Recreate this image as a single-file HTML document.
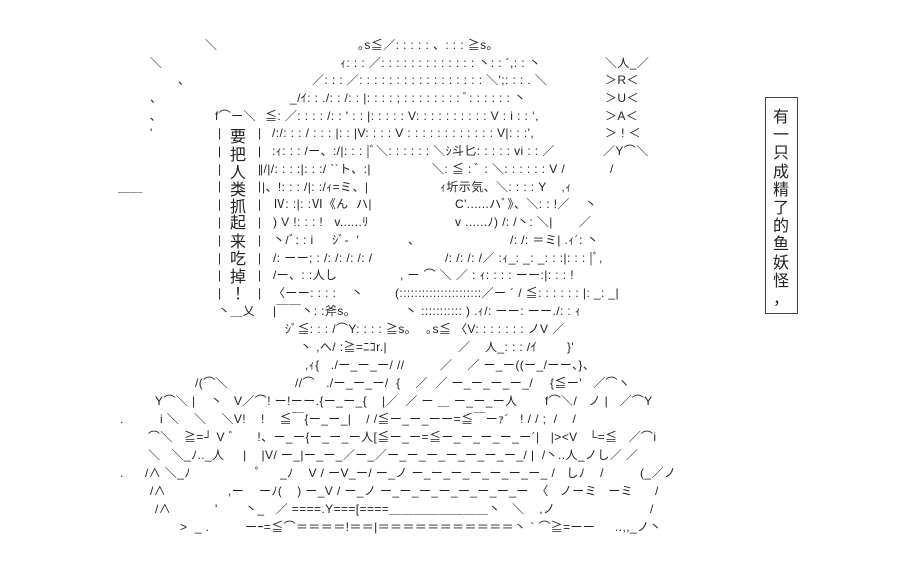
<!DOCTYPE html>
<html><head><meta charset="utf-8">
<style>
html,body{margin:0;padding:0;background:#fff;}
body{width:902px;height:568px;position:relative;overflow:hidden;
font-family:"Liberation Sans","Noto Sans CJK JP",sans-serif;font-size:12px;color:#222;}
.c{position:absolute;white-space:pre;line-height:16px;letter-spacing:0.4px;}
.k{position:absolute;font-size:16px;line-height:18px;width:20px;text-align:center;}
#rb{position:absolute;left:765px;top:97px;width:31px;height:215px;border:1px solid #444;}
</style></head><body>
<div class="c" style="left:205px;top:37px">＼</div>
<div class="c" style="left:358px;top:37px">｡s≦／: : : : : 、: : : ≧s｡</div>
<div class="c" style="left:150px;top:55px">＼</div>
<div class="c" style="left:340px;top:55px">ｨ: : : ／: : : : : : : : : : : : : 丶: : ´,: : 丶</div>
<div class="c" style="left:605px;top:55px">＼人_／</div>
<div class="c" style="left:178px;top:72px">、</div>
<div class="c" style="left:312px;top:72px">／: : : ／: : : : : : : : : : : : : : : : : ＼';: : : . ＼</div>
<div class="c" style="left:605px;top:72px">＞R＜</div>
<div class="c" style="left:150px;top:90px">、</div>
<div class="c" style="left:290px;top:90px">_/ｲ: : ./: : /: : |: : : : ; : : : : : : : : ﾞ: : : : : : 丶</div>
<div class="c" style="left:605px;top:90px">＞U＜</div>
<div class="c" style="left:150px;top:108px">､</div>
<div class="c" style="left:215px;top:108px">f⌒ー＼</div>
<div class="c" style="left:265px;top:108px">≦: ／: : : : /: : ' : : |: : : : : V: : : : : : : : : : V : i : : ‘,</div>
<div class="c" style="left:605px;top:108px">＞A＜</div>
<div class="c" style="left:150px;top:125px">'</div>
<div class="c" style="left:272px;top:125px">/:/: : : / : : : |: : |V: : : : V : : : : : : : : : : : : V|: : :',</div>
<div class="c" style="left:605px;top:125px">＞ ! ＜</div>
<div class="c" style="left:272px;top:143px">:ｨ: : : /ー、:/|: : : |ﾞ＼: : : : : : ＼ｼ斗匕: : : : : vi : : ／</div>
<div class="c" style="left:603px;top:143px">／Y⌒＼</div>
<div class="c" style="left:260px;top:161px">|/|/: : : :|: : :/ ˋ`ト、:|</div>
<div class="c" style="left:432px;top:161px">＼: ≦ : ﾞ : ＼: : : : : : V /</div>
<div class="c" style="left:610px;top:161px">/</div>
<div class="c" style="left:118px;top:179px">＿＿</div>
<div class="c" style="left:262px;top:179px">|、!: : : /|: :/ｨ=ミ、|</div>
<div class="c" style="left:440px;top:179px">ｨ圻示気、＼: : : : Y    ,ｨ</div>
<div class="c" style="left:273px;top:196px">Ⅳ: :|: :Ⅵ《ん  ハ|</div>
<div class="c" style="left:455px;top:196px">C'......ハﾞ》、＼: : !／    丶</div>
<div class="c" style="left:273px;top:214px">) V !: : : !   v......ﾘ</div>
<div class="c" style="left:455px;top:214px">v ......ﾉ) /: /丶: ＼|       ／</div>
<div class="c" style="left:273px;top:232px">丶/ﾞ: : i     ｼﾞ-  '</div>
<div class="c" style="left:408px;top:232px">、</div>
<div class="c" style="left:510px;top:232px">/: /: ＝ミ| .ｨ´: 丶</div>
<div class="c" style="left:273px;top:250px">/: ーー; : /: /: /: /: /</div>
<div class="c" style="left:445px;top:250px">/: /: /: /／ :ｨ_: _: _: : :|: : : |ﾞ,</div>
<div class="c" style="left:273px;top:267px">/ー、: :人し</div>
<div class="c" style="left:400px;top:267px">, ー ⌒ ＼ ／ : ｨ: : : : ーー:|: : : !</div>
<div class="c" style="left:273px;top:285px">〈ーー: : : :    丶</div>
<div class="c" style="left:395px;top:285px">(::::::::::::::::::::::／ー ´ / ≦: : : : : : |: _: _|</div>
<div class="c" style="left:218px;top:303px">丶＿乂</div>
<div class="c" style="left:273px;top:303px">|￣￣丶: :斧s｡</div>
<div class="c" style="left:405px;top:303px">丶 ::::::::::: ) .ｨ/: ーー: ーー./: : ｨ</div>
<div class="c" style="left:285px;top:321px">ｼﾞ≦: : : /⌒Y: : : : ≧s｡    ｡s≦ 〈V: : : : : : : ノV ／</div>
<div class="c" style="left:300px;top:339px">丶 ,へ/ :≧=ﾆｺr.|</div>
<div class="c" style="left:458px;top:339px">／</div>
<div class="c" style="left:485px;top:339px">人_: : : /ｲ</div>
<div class="c" style="left:567px;top:339px">}'</div>
<div class="c" style="left:305px;top:357px">,ｨ{   ./ー_ー_ー/ //</div>
<div class="c" style="left:440px;top:357px">／    ／ ー_ー((ー_/ーー、}、</div>
<div class="c" style="left:195px;top:375px">/(⌒＼</div>
<div class="c" style="left:295px;top:375px">//⌒   ./ー_ー_ー/  {    ／  ／ ー_ー_ー_ー_/</div>
<div class="c" style="left:550px;top:375px">{≦ー'   ／⌒ヽ</div>
<div class="c" style="left:155px;top:393px">Y⌒＼ |    丶   V／⌒! ー!ーー.{ー_ー_{    |／  ／ ー ＿ ー_ー_ー人</div>
<div class="c" style="left:545px;top:393px">f⌒＼/   ノ |   ／⌒Y</div>
<div class="c" style="left:120px;top:411px">.</div>
<div class="c" style="left:160px;top:411px">i ＼    ＼    ＼V!    !    ≦￣{ー_ー_|    / /≦ー_ー_ーー=≦￣ーｧ´   ! / / ;  /    /</div>
<div class="c" style="left:148px;top:429px">⌒＼   ≧=┘ V ﾞ      !、ー_ー{ー_ー_ー人[≦ー_ー=≦ー_ー_ー_ー_ー´|   |&gt;&lt;V   └=≦   ／⌒i</div>
<div class="c" style="left:148px;top:447px">＼   ＼_ﾉ.._人     |    |V/ ー_|ー_ー_／ー_／ー_ー_ー_ー_ー_ー_ー_/ |  /丶..人_ノし／ ／</div>
<div class="c" style="left:120px;top:465px">.</div>
<div class="c" style="left:145px;top:465px">/∧ ＼_ﾉ</div>
<div class="c" style="left:255px;top:465px">ﾟ     _ﾉ    V / ーV_ー/ ー_ノ ー_ー_ー_ー_ー_ー_ー_ /   しﾉ    /</div>
<div class="c" style="left:640px;top:465px">(_／ノ</div>
<div class="c" style="left:150px;top:483px">/∧</div>
<div class="c" style="left:228px;top:483px">,ー    ーﾉ(    ) ー_V / ー_ノ ー_ー_ー_ー_ー_ー_ー_ー  〈   ノーミ   ーミ</div>
<div class="c" style="left:655px;top:483px">/</div>
<div class="c" style="left:155px;top:501px">/∧</div>
<div class="c" style="left:215px;top:501px">'</div>
<div class="c" style="left:245px;top:501px">丶_   ／ ====.Y===[====＿＿＿＿＿＿＿＿丶   ＼    ,ノ</div>
<div class="c" style="left:650px;top:501px">/</div>
<div class="c" style="left:180px;top:519px">&gt;  _ .</div>
<div class="c" style="left:245px;top:519px">ーｰ=≦⌒＝＝＝＝!＝＝|＝＝＝＝＝＝＝＝＝＝＝丶 ` ⌒≧=ーー</div>
<div class="c" style="left:615px;top:519px">..,,_ノ丶</div>

<div class="c" style="left:218px;top:125px;line-height:17.8px">|
|
|
|
|
|
|
|
|
|</div>
<div class="c" style="left:258px;top:125px;line-height:17.8px">|
|
|
|
|
|
|
|
|
|</div>
<div class="k" style="left:228px;top:129px">要</div>
<div class="k" style="left:228px;top:147px">把</div>
<div class="k" style="left:228px;top:165px">人</div>
<div class="k" style="left:228px;top:182px">类</div>
<div class="k" style="left:228px;top:199px">抓</div>
<div class="k" style="left:228px;top:215px">起</div>
<div class="k" style="left:228px;top:234px">来</div>
<div class="k" style="left:228px;top:251px">吃</div>
<div class="k" style="left:228px;top:269px">掉</div>
<div class="k" style="left:228px;top:286px">！</div>

<div id="rb"></div>
<div class="k" style="left:771px;top:109px">有</div>
<div class="k" style="left:771px;top:127px">一</div>
<div class="k" style="left:771px;top:145px">只</div>
<div class="k" style="left:771px;top:164px">成</div>
<div class="k" style="left:771px;top:182px">精</div>
<div class="k" style="left:771px;top:200px">了</div>
<div class="k" style="left:771px;top:218px">的</div>
<div class="k" style="left:771px;top:236px">鱼</div>
<div class="k" style="left:771px;top:255px">妖</div>
<div class="k" style="left:771px;top:273px">怪</div>
<div class="k" style="left:771px;top:291px">，</div>
</body></html>
